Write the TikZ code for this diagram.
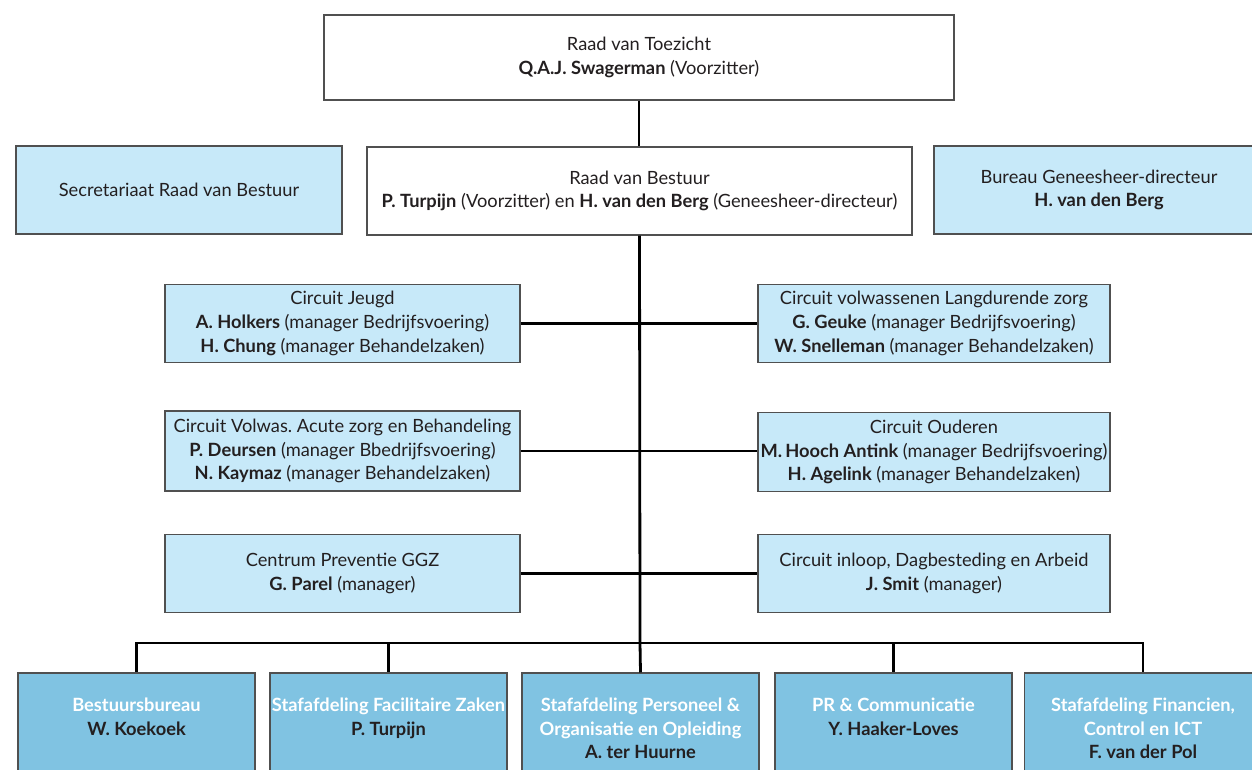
\documentclass[tikz,border=0pt]{standalone}
\usepackage{fontspec}
\setmainfont{Lato}
\frenchspacing
\definecolor{lblue}{RGB}{199,233,249}
\definecolor{dblue}{RGB}{128,195,226}
\definecolor{ink}{RGB}{35,31,32}
\definecolor{edge}{RGB}{80,80,80}
\tikzset{
  wh/.style 2 args={minimum width=#1*0.75pt, minimum height=#2*0.75pt},
  box/.style={draw=edge, line width=0.8pt, inner sep=0pt, align=center, text=ink,
    font=\fontsize{13.7}{17.8}\selectfont},
  wbox/.style={box, fill=white},
  lbox/.style={box, fill=lblue},
  dbox/.style={box, fill=dblue},
  btext/.style={anchor=north, align=center, inner sep=0pt, text=white,
    font=\fontsize{13.7}{17.6}\selectfont},
  link/.style={draw=black, line width=2.1pt}}
\begin{document}
\begin{tikzpicture}[x=0.75pt,y=-0.75pt]
\useasboundingbox (0,0) rectangle (1252,769);
\clip (0,0) rectangle (1252,769);
% top
\node[wbox, wh={630}{85}] (rvt) at (639,57.5) {Raad van Toezicht\\\textbf{Q.A.J. Swagerman} (Voorzitter)};
\node[lbox, wh={326}{88}] (sec) at (179,190) {Secretariaat Raad van Bestuur};
\node[wbox, wh={545}{88}] (rvb) at (639.5,191) {Raad van Bestuur\\\textbf{P. Turpijn} (Voorzitter) en \textbf{H. van den Berg} (Geneesheer-directeur)};
\node[lbox, wh={330}{88}] (bgd) at (1099,190) {Bureau Geneesheer-directeur\\\textbf{H. van den Berg}};
% circuits
\node[lbox, wh={355}{78}] (cj) at (342.5,323.5) {Circuit Jeugd\\\textbf{A. Holkers} (manager Bedrijfsvoering)\\\textbf{H. Chung} (manager Behandelzaken)};
\node[lbox, wh={352}{78}] (cvl) at (934,323.5) {Circuit volwassenen Langdurende zorg\\\textbf{G. Geuke} (manager Bedrijfsvoering)\\\textbf{W. Snelleman} (manager Behandelzaken)};
\node[lbox, wh={355}{80}] (cva) at (342.5,451) {Circuit Volwas. Acute zorg en Behandeling\\\textbf{P. Deursen} (manager Bbedrijfsvoering)\\\textbf{N. Kaymaz} (manager Behandelzaken)};
\node[lbox, wh={352}{79}] (co) at (934,452) {Circuit Ouderen\\\textbf{M.\,Hooch Antink} (manager Bedrijfsvoering)\\\textbf{H. Agelink} (manager Behandelzaken)};
\node[lbox, wh={355}{78}] (cp) at (342.5,573.5) {Centrum Preventie GGZ\\\textbf{G. Parel} (manager)};
\node[lbox, wh={352}{78}] (ci) at (934,573.5) {Circuit inloop, Dagbesteding en Arbeid\\\textbf{J. Smit} (manager)};
% bottom boxes
\node[dbox, wh={237}{130}] (b1) at (136.5,738) {};
\node[dbox, wh={237}{130}] (b2) at (388.5,738) {};
\node[dbox, wh={237}{130}] (b3) at (640.5,738) {};
\node[dbox, wh={237}{130}] (b4) at (893.5,738) {};
\node[dbox, wh={237}{130}] (b5) at (1143,738) {};
\node[btext] (t1) at (136.5,698) {\textbf{Bestuursbureau}\\\textcolor{ink}{\textbf{W. Koekoek}}};
\node[btext] (t2) at (388.5,698) {\textbf{Stafafdeling Facilitaire Zaken}\\\textcolor{ink}{\textbf{P. Turpijn}}};
\node[btext] (t3) at (640.5,698) {\textbf{Stafafdeling Personeel \&}\\\textbf{Organisatie en Opleiding}\\\textcolor{ink}{\textbf{A. ter Huurne}}};
\node[btext] (t4) at (893.5,698) {\textbf{PR \& Communicatie}\\\textcolor{ink}{\textbf{Y. Haaker-Loves}}};
\node[btext] (t5) at (1143,698) {\textbf{Stafafdeling Financien,}\\\textbf{Control en ICT}\\\textcolor{ink}{\textbf{F. van der Pol}}};
% connectors
\coordinate (bus1) at (136.5,643);
\coordinate (bus2) at (388.5,643);
\coordinate (bus3) at (640,643);
\coordinate (bus4) at (893.5,643);
\coordinate (bus5) at (1143,643);
\draw[link] (rvt.south) -- (rvt.south |- rvb.north);
\draw[link] (rvb.south) -- (bus3);
\draw[link] (cj.east) -- (cvl.west);
\draw[link] (cva.east) -- (cva.east -| co.west);
\draw[link] (cp.east) -- (ci.west);
\draw[link, line cap=rect] (bus1) -- (bus5);
\foreach \i in {1,...,5} {\draw[link] (bus\i) -- (b\i.north);}
\end{tikzpicture}
\end{document}
